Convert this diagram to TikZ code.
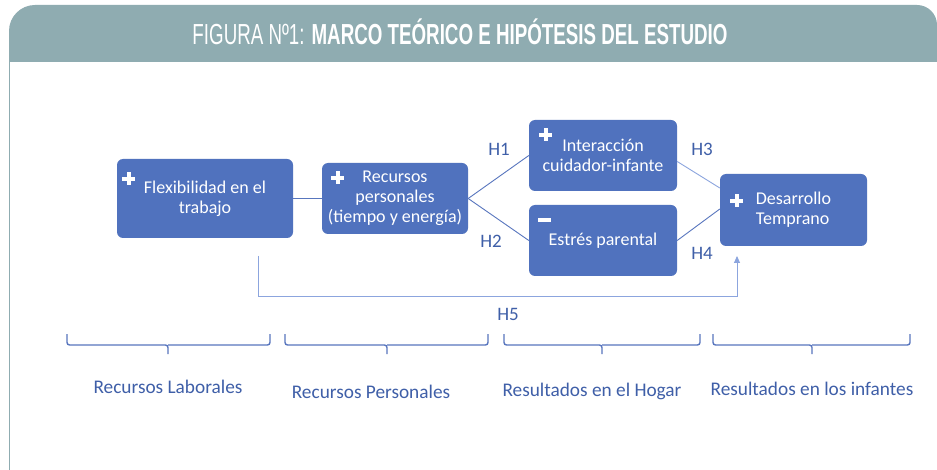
\documentclass[tikz,border=0pt]{standalone}
\usepackage{fontspec}
\setmainfont{Carlito}
\newfontfamily\headfont{Liberation Sans}
\usetikzlibrary{arrows.meta,calc}
\definecolor{hdr}{RGB}{143,172,177}
\definecolor{boxblue}{RGB}{80,114,190}
\definecolor{lineblue}{RGB}{88,118,190}
\definecolor{lightline}{RGB}{140,165,222}
\definecolor{txtblue}{RGB}{63,95,168}
\newcommand\mybrace[3]{%
  \draw[bracestyle] (#1,334) -- (#1,345) -- (#2,345) -- (#2,354);
  \draw[bracestyle] (#2,345) -- (#3,345) -- (#3,334);}
\begin{document}
\begin{tikzpicture}[x=1pt,y=-1pt,
  box/.style={fill=boxblue, rounded corners=6pt, text=white,
    font=\fontsize{18}{19.8}\selectfont, align=center, inner sep=0pt},
  conn/.style={draw=lineblue, line width=0.9pt},
  lconn/.style={draw=lightline, line width=0.9pt},
  hlab/.style={text=txtblue, font=\fontsize{19}{21}\selectfont, inner sep=0pt},
  grplab/.style={text=txtblue, font=\fontsize{19.3}{21}\selectfont, inner sep=0pt},
  bracestyle/.style={draw=lineblue, line width=1.4pt, rounded corners=2.5pt},
  sign/.style={draw=white, line width=4pt}]

\useasboundingbox (0,0) rectangle (937,470);
\fill[white] (0,0) rectangle (937,470);
% header band
\fill[hdr] (9,62) [rounded corners=26pt] -- (9,5) [rounded corners=20pt] -- (937,5) [sharp corners] -- (937,62) -- cycle;
\draw[hdr, line width=1pt] (9.5,62) -- (9.5,470);
\node[text=white, inner sep=0pt] (title) at (460,32)
  {\resizebox{535pt}{\height}{\headfont\fontsize{29}{29}\selectfont FIGURA Nº1: \textbf{MARCO TEÓRICO E HIPÓTESIS DEL ESTUDIO}}};

% boxes
\node[box, minimum width=176pt, minimum height=79pt] (flex) at (205,198.5) {Flexibilidad en el\\trabajo};
\node[box, minimum width=146pt, minimum height=71pt] (rec) at (395,198.5) {Recursos\\personales\\(tiempo y energía)};
\node[box, minimum width=148pt, minimum height=71pt] (int) at (603,155.5) {Interacción\\cuidador-infante};
\node[box, minimum width=148pt, minimum height=71pt] (est) at (603,240.5) {Estrés parental};
\node[box, minimum width=147pt, minimum height=72pt, align=left] (des) at (793.5,210) {Desarrollo\\Temprano};

% signs
\draw[sign] ($(flex.north west)+(12,20)$) ++(-6.5,0) -- ++(13,0) ++(-6.5,-6.5) -- ++(0,13);
\draw[sign] ($(rec.north west)+(16,15)$) ++(-6.5,0) -- ++(13,0) ++(-6.5,-6.5) -- ++(0,13);
\draw[sign] ($(int.north west)+(17,15)$) ++(-6.5,0) -- ++(13,0) ++(-6.5,-6.5) -- ++(0,13);
\draw[sign] ($(est.north west)+(16,15)$) ++(-6.5,0) -- ++(13,0);
\draw[sign] ($(des.north west)+(17,27)$) ++(-6.5,0) -- ++(13,0) ++(-6.5,-6.5) -- ++(0,13);

% connectors
\draw[conn] (flex.east) -- (rec.west);
\draw[conn] (rec.east) -- (int.west);
\draw[conn] (rec.east) -- (est.west);
\draw[lconn] ($(int.east)+(0,6)$) -- ($(des.west)+(0,-22)$);
\draw[conn] (est.east) -- ($(des.west)+(0,-1)$);
\coordinate (h5s) at (258,256);
\coordinate (h5e) at (737,256);
\draw[lconn, -{Triangle[length=7pt,width=6pt]}] (h5s) -- ++(0,40) -| (h5e);

% hypothesis labels
\node[hlab] (H1) at (499,149) {H1};
\node[hlab] (H2) at (491,241) {H2};
\node[hlab] (H3) at (702,149) {H3};
\node[hlab] (H4) at (702,253) {H4};
\node[hlab] (H5) at (508,314) {H5};

% braces
\mybrace{67}{168}{270}
\mybrace{285}{387}{488}
\mybrace{504}{602}{700}
\mybrace{713}{812}{910}

\node[grplab] (g1) at (168,387) {Recursos Laborales};
\node[grplab] (g2) at (371,392) {Recursos Personales};
\node[grplab] (g3) at (592,391) {Resultados en el Hogar};
\node[grplab] (g4) at (812,389) {Resultados en los infantes};
\end{tikzpicture}
\end{document}
